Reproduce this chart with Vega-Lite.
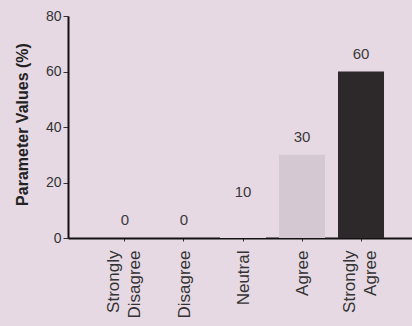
{
  "$schema": "https://vega.github.io/schema/vega-lite/v6.json",
  "width": 350,
  "height": 222,
  "autosize": "none",
  "padding": {"left": 68, "top": 16, "right": 0, "bottom": 88},
  "background": "#e6d9e3",
  "config": {"view": {"stroke": null}, "font": "Liberation Sans"},
  "data": {"values": [
    {"category": "Strongly Disagree", "value": 0},
    {"category": "Disagree", "value": 0},
    {"category": "Neutral", "value": 10},
    {"category": "Agree", "value": 30},
    {"category": "Strongly Agree", "value": 60}
  ]},
  "encoding": {
    "x": {"field": "category", "type": "nominal", "sort": null,
      "scale": {"paddingInner": 0.22, "paddingOuter": 0.576},
      "axis": {"title": null, "labelAngle": -90, "labelAlign": "right", "labelBaseline": "middle",
        "labelExpr": "split(datum.label, ' ')", "labelFontSize": 17, "labelColor": "#333333",
        "labelOffset": {"condition": {"test": "indexof(datum.label, ' ') >= 0", "value": -11}, "value": 1},
        "labelPadding": 9, "tickSize": 3, "tickColor": "#333333", "domainColor": "#111111", "domainWidth": 2,
        "labelLineHeight": 21}},
    "y": {"field": "value", "type": "quantitative",
      "scale": {"domain": [0, 80]},
      "axis": {"title": "Parameter Values (%)", "values": [0, 20, 40, 60, 80], "grid": false,
        "labelFontSize": 14, "labelColor": "#333333", "labelPadding": 2, "tickSize": 5,
        "tickColor": "#333333", "domainColor": "#111111", "domainWidth": 2,
        "titleFontSize": 16, "titleFontWeight": "bold", "titleColor": "#222222",
        "titleX": -46, "titleY": 108, "titleAngle": -90, "titleAlign": "center", "titleBaseline": "middle"}}
  },
  "layer": [
    {"mark": {"type": "bar"},
      "encoding": {"color": {"field": "category", "type": "nominal", "legend": null,
        "scale": {"domain": ["Strongly Disagree", "Disagree", "Neutral", "Agree", "Strongly Agree"],
          "range": ["#e6d9e3", "#e6d9e3", "#e6d9e3", "#d4c9d2", "#2d292b"]}}}},
    {"mark": {"type": "text", "baseline": "middle", "dy": -18, "fontSize": 15, "color": "#3a3a3a"},
      "encoding": {"text": {"field": "value", "type": "quantitative"}}}
  ]
}
